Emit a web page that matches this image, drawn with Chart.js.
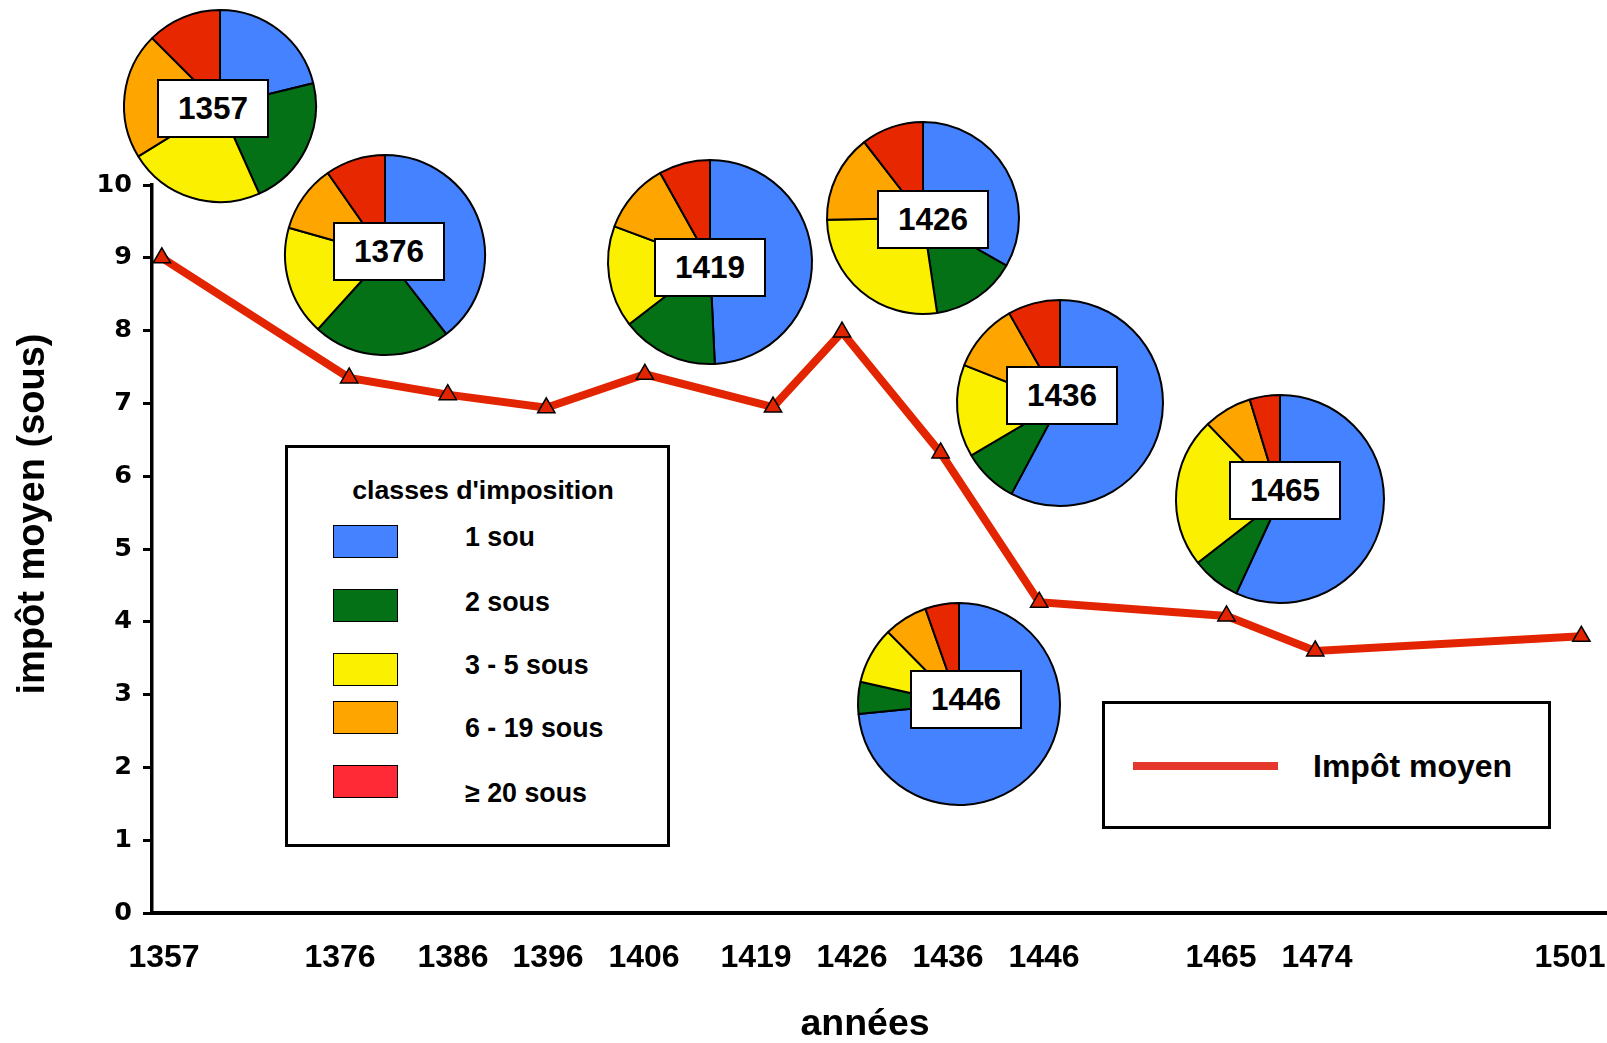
<!DOCTYPE html>
<html><head><meta charset="utf-8">
<script src="https://cdn.jsdelivr.net/npm/chart.js@4.4.1/dist/chart.umd.min.js"></script>
<style>
html,body{margin:0;padding:0;background:#fff;overflow:hidden;}
#wrap{position:relative;width:1607px;height:1043px;font-family:"Liberation Sans",Arial,Helvetica,sans-serif;font-weight:bold;color:#000;}
#main{position:absolute;left:0;top:0;}
.pie{position:absolute;}
.ylab{position:absolute;box-sizing:border-box;width:112px;height:59px;border:2px solid #000;background:#fff;font-size:31.5px;line-height:55px;text-align:center;}
.legbox{position:absolute;box-sizing:border-box;border:3px solid #000;background:#fff;}
.sw{position:absolute;box-sizing:border-box;width:65px;height:33px;border:1.5px solid #000;}
.lt{position:absolute;height:40px;line-height:40px;font-size:26.8px;white-space:nowrap;}
</style>
</head>
<body>
<div id="wrap">
<canvas id="main" width="1607" height="1043"></canvas>
</div>
<script>
// ---- data ----
const years = [1357, 1376, 1386, 1396, 1406, 1419, 1426, 1436, 1446, 1465, 1474, 1501];
const impotMoyen = [9.0, 7.35, 7.12, 6.94, 7.40, 6.95, 7.98, 6.32, 4.27, 4.08, 3.60, 3.80];
const yTickValues = [0, 1, 2, 3, 4, 5, 6, 7, 8, 9, 10];
const xTitle = 'années';
const yTitle = 'impôt moyen (sous)';

const classLabels = ['1 sou', '2 sous', '3 - 5 sous', '6 - 19 sous', '≥ 20 sous'];
const pieYears = ['1357', '1376', '1419', '1426', '1436', '1446', '1465'];
const share1sou   = [21.2, 39.5, 49.2, 33.3, 57.8, 73.5, 56.9];
const share2sous  = [22.1, 22.2, 15.3, 14.4, 8.7, 5.1, 7.6];
const share3a5    = [22.9, 17.7, 16.1, 27.1, 14.5, 9.1, 23.3];
const share6a19   = [21.3, 10.9, 11.2, 14.8, 10.8, 7.0, 7.5];
const share20plus = [12.5, 9.7, 8.1, 10.5, 8.2, 5.4, 4.7];

// ---- layout / styles ----
const FONT = '"Liberation Sans", Arial, Helvetica, sans-serif';
const pieColors = ['#4482FF', '#047117', '#FBF000', '#FFA500', '#E62700'];
const swatchColors = ['#4482FF', '#047117', '#FBF000', '#FFA500', '#FF2A36'];
const xLabelCenters = [164, 340, 453, 548, 644, 756, 852, 948, 1044, 1221, 1317, 1570];
const pieLayout = [
  {cx: 220, cy: 106, r: 96,  bx: 213, by: 108},
  {cx: 385, cy: 255, r: 100, bx: 389, by: 251},
  {cx: 710, cy: 262, r: 102, bx: 710, by: 267},
  {cx: 923, cy: 218, r: 96,  bx: 933, by: 219},
  {cx: 1060, cy: 403, r: 103, bx: 1062, by: 395},
  {cx: 959, cy: 704, r: 101, bx: 966, by: 699},
  {cx: 1280, cy: 499, r: 104, bx: 1285, by: 490}
];

const wrap = document.getElementById('wrap');

// place the x-axis tick labels like the original (hand-spread labels)
const tickLabelPlacer = {
  id: 'tickLabelPlacer',
  beforeDraw(chart) {
    const items = chart.scales.x.getLabelItems();
    items.forEach((it, i) => {
      if (xLabelCenters[i] != null && it.options && it.options.translation) {
        it.options.translation[0] = xLabelCenters[i];
      }
    });
  }
};
// axis titles
const axisTitles = {
  id: 'axisTitles',
  afterDraw(chart) {
    const ctx = chart.ctx;
    ctx.save();
    ctx.fillStyle = '#000';
    ctx.textAlign = 'center';
    ctx.textBaseline = 'middle';
    ctx.font = 'bold 37.5px ' + FONT;
    ctx.fillText(xTitle, 865, 1025);
    ctx.translate(34, 514);
    ctx.rotate(-Math.PI / 2);
    ctx.font = 'bold 38px ' + FONT;
    ctx.fillText(yTitle, 0, 0);
    ctx.restore();
  }
};

// ---- main line chart ----
new Chart(document.getElementById('main'), {
  type: 'line',
  data: {
    datasets: [{
      label: 'Impôt moyen',
      data: years.map((y, i) => ({x: y, y: impotMoyen[i]})),
      borderColor: '#E32400',
      borderWidth: 8,
      tension: 0,
      fill: false,
      pointStyle: 'triangle',
      pointRadius: 10,
      pointBackgroundColor: '#E32400',
      pointBorderColor: '#000',
      pointBorderWidth: 1.5
    }]
  },
  options: {
    responsive: false,
    animation: false,
    events: [],
    layout: {autoPadding: false, padding: {top: 185, right: 0, bottom: 0, left: 0}},
    plugins: {legend: {display: false}, tooltip: {enabled: false}},
    scales: {
      x: {
        type: 'linear',
        min: 1356,
        max: 1503.6,
        afterBuildTicks: s => { s.ticks = years.map(v => ({value: v})); },
        afterFit: s => { s.height = 130; s.paddingLeft = 0; s.paddingRight = 0; },
        ticks: {
          autoSkip: false, minRotation: 0, maxRotation: 0, padding: 26, color: '#000',
          font: {family: FONT, size: 32, weight: 'bold'},
          callback: v => String(v)
        },
        grid: {drawOnChartArea: false, drawTicks: false},
        border: {color: '#000', width: 4}
      },
      y: {
        min: 0,
        max: 10,
        afterBuildTicks: s => { s.ticks = yTickValues.map(v => ({value: v})); },
        afterFit: s => { s.width = 152; s.paddingTop = 0; s.paddingBottom = 0; },
        ticks: {padding: 11, color: '#000', font: {family: '"DejaVu Sans", sans-serif', size: 25.5, weight: 'bold'}},
        grid: {drawOnChartArea: false, drawTicks: true, tickLength: 9, tickWidth: 3, tickColor: '#000'},
        border: {color: '#000', width: 3.5}
      }
    }
  },
  plugins: [tickLabelPlacer, axisTitles]
});

// ---- pies ----
pieYears.forEach((yr, i) => {
  const L = pieLayout[i];
  const S = Math.ceil(2 * L.r + 10);
  const c = document.createElement('canvas');
  c.width = S; c.height = S; c.className = 'pie';
  c.style.left = Math.round(L.cx - S / 2) + 'px';
  c.style.top = Math.round(L.cy - S / 2) + 'px';
  wrap.appendChild(c);
  new Chart(c, {
    type: 'pie',
    data: {
      labels: classLabels,
      datasets: [{
        data: [share1sou[i], share2sous[i], share3a5[i], share6a19[i], share20plus[i]],
        backgroundColor: pieColors,
        borderColor: '#000',
        borderWidth: 2
      }]
    },
    options: {
      responsive: false, animation: false, events: [], radius: L.r,
      layout: {padding: 0},
      plugins: {legend: {display: false}, tooltip: {enabled: false}}
    }
  });
  const b = document.createElement('div');
  b.className = 'ylab';
  b.textContent = yr;
  b.style.left = Math.round(L.bx - 56) + 'px';
  b.style.top = Math.round(L.by - 29.5) + 'px';
  wrap.appendChild(b);
});

// ---- legend: classes d'imposition ----
const leg = document.createElement('div');
leg.className = 'legbox';
leg.style.left = '285px'; leg.style.top = '445px'; leg.style.width = '385px'; leg.style.height = '402px';
wrap.appendChild(leg);
const t = document.createElement('div');
t.className = 'lt'; t.textContent = "classes d'imposition";
t.style.left = '0px'; t.style.width = '379px'; t.style.textAlign = 'center'; t.style.top = '22px';
t.style.paddingLeft = '11px'; t.style.boxSizing = 'border-box'; t.style.fontSize = '26.7px';
leg.appendChild(t);
const swTops = [77, 141, 205, 253, 317];
const lbCenters = [89, 154, 217, 280, 345];
classLabels.forEach((lab, i) => {
  const s = document.createElement('div');
  s.className = 'sw';
  s.style.left = '45px'; s.style.top = swTops[i] + 'px'; s.style.background = swatchColors[i];
  leg.appendChild(s);
  const l = document.createElement('div');
  l.className = 'lt'; l.textContent = lab;
  l.style.left = '177px'; l.style.top = (lbCenters[i] - 20) + 'px';
  leg.appendChild(l);
});

// ---- legend: Impôt moyen ----
const leg2 = document.createElement('div');
leg2.className = 'legbox';
leg2.style.left = '1102px'; leg2.style.top = '701px'; leg2.style.width = '449px'; leg2.style.height = '128px';
wrap.appendChild(leg2);
const ln = document.createElement('div');
ln.style.cssText = 'position:absolute;left:28px;top:58px;width:145px;height:8px;background:#E5372B;';
leg2.appendChild(ln);
const lt2 = document.createElement('div');
lt2.className = 'lt'; lt2.textContent = 'Impôt moyen';
lt2.style.left = '208px'; lt2.style.top = '42px'; lt2.style.fontSize = '32px';
leg2.appendChild(lt2);
</script>
</body></html>
